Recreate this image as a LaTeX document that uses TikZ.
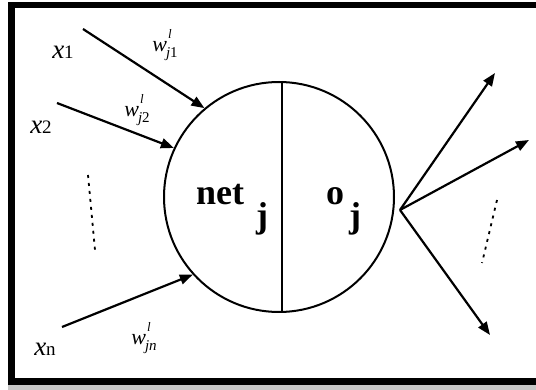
\documentclass[tikz,border=0pt]{standalone}
\usepackage{fontspec}
\setmainfont{Liberation Serif}
\usetikzlibrary{arrows.meta}
\tikzset{
  frame/.style={line width=6.5pt, black},
  neuron/.style={circle, draw, line width=2pt, minimum size=230pt, inner sep=0pt},
  conn/.style={line width=2.2pt, -{Triangle[length=13pt,width=10pt]}},
  inlabel/.style={inner sep=0pt, font=\fontsize{19}{22}\selectfont},
  wlabel/.style={inner sep=0pt, font=\fontsize{22}{26}\selectfont},
  bigtxt/.style={inner sep=0pt, font=\fontsize{36}{40}\selectfont\bfseries},
  ellip/.style={line width=1.8pt, dash pattern=on 3pt off 5pt},
}
\newcommand{\xvar}{{\fontsize{27}{30}\selectfont\itshape x}}
\newcommand{\wlab}[1]{\textit{w}\kern-1pt\raisebox{-6pt}{\rlap{\raisebox{19pt}{\kern2pt\fontsize{13}{14}\selectfont\itshape l}}\fontsize{15}{16}\selectfont #1}}
\begin{document}
\begin{tikzpicture}[x=1pt,y=-1pt]
\useasboundingbox (0,0) rectangle (536,390);
% shadow and frame
\fill[gray!45] (8,384) rectangle (536,390);
\draw[frame] (536,5) -- (11.5,5) -- (11.5,381.5) -- (536,381.5);
% neuron
\node[neuron] (c) at (279,197) {};
\draw[line width=2pt] ([xshift=3pt]c.north) -- ([xshift=3pt]c.south);
\node[bigtxt, anchor=base west] (net) at (196,205) {net};
\node[bigtxt, anchor=base west] (netj) at (256,228) {j};
\node[bigtxt, anchor=base west] (o) at (326,205) {o};
\node[bigtxt, anchor=base west] (oj) at (349,228) {j};
% inputs
\coordinate (s1) at (83,29);
\coordinate (s2) at (57,103);
\coordinate (sn) at (62,327);
\draw[conn] (s1) -- (c.130);
\draw[conn] (s2) -- (c.155);
\draw[conn] (sn) -- (c.222);
% input labels
\node[inlabel] (x1) at (63,52) {\xvar1};
\node[inlabel] (x2) at (41,127) {\xvar2};
\node[inlabel] (xn) at (45,349) {\xvar n};
% weight labels
\node[wlabel] (w1) at (165,45) {\wlab{\textit{j}1}};
\node[wlabel] (w2) at (137,110) {\wlab{\textit{j}2}};
\node[wlabel] (wn) at (144,338) {\wlab{\textit{jn}}};
% outputs
\coordinate (o1) at (495,73);
\coordinate (o2) at (529,140);
\coordinate (o3) at (490,335);
\coordinate (org) at (400,210);
\draw[conn] (org) -- (o1);
\draw[conn] (org) -- (o2);
\draw[conn] (org) -- (o3);
% vertical ellipses
\coordinate (e1a) at (88,175);
\coordinate (e1b) at (95,250);
\draw[ellip] (e1a) -- (e1b);
\coordinate (e2a) at (497,200);
\coordinate (e2b) at (482,263);
\draw[ellip] (e2a) -- (e2b);
\end{tikzpicture}
\end{document}
